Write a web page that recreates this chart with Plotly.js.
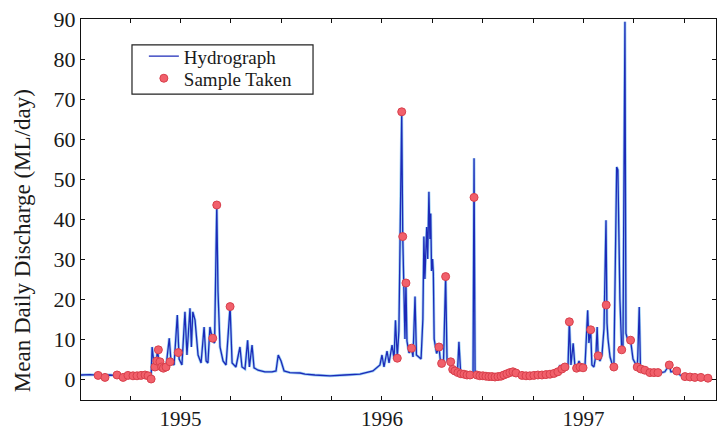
<!DOCTYPE html>
<html>
<head>
<meta charset="utf-8">
<script src="https://cdn.plot.ly/plotly-3.0.1.min.js"></script>
<style>
  html, body { margin: 0; padding: 0; background: #fff; }
  #chart { width: 718px; height: 430px; }
</style>
</head>
<body>
<div id="chart"></div>
<script>
// Mean daily discharge, mid-1994 to mid-1997 (time in decimal years)
const flowTime = [
  1994.506, 1994.551, 1994.600, 1994.650, 1994.700, 1994.749, 1994.799, 1994.839, 1994.854, 1994.859,
  1994.868, 1994.878, 1994.886, 1994.893, 1994.903, 1994.916, 1994.928, 1994.944, 1994.953, 1994.968,
  1994.984, 1994.993, 1995.007, 1995.022, 1995.032, 1995.047, 1995.054, 1995.061, 1995.072, 1995.087,
  1995.102, 1995.117, 1995.127, 1995.136, 1995.146, 1995.160, 1995.169, 1995.180, 1995.186, 1995.196,
  1995.211, 1995.226, 1995.246, 1995.256, 1995.275, 1995.295, 1995.305, 1995.320, 1995.333, 1995.342,
  1995.355, 1995.365, 1995.385, 1995.419, 1995.454, 1995.474, 1995.485, 1995.499, 1995.514, 1995.543,
  1995.593, 1995.618, 1995.667, 1995.742, 1995.816, 1995.891, 1995.955, 1995.980, 1995.990, 1996.000,
  1996.010, 1996.025, 1996.035, 1996.050, 1996.060, 1996.067, 1996.076, 1996.084, 1996.098, 1996.103,
  1996.109, 1996.114, 1996.119, 1996.124, 1996.134, 1996.147, 1996.154, 1996.164, 1996.171, 1996.180,
  1996.194, 1996.203, 1996.208, 1996.213, 1996.222, 1996.227, 1996.233, 1996.238, 1996.242, 1996.246,
  1996.251, 1996.255, 1996.259, 1996.271, 1996.283, 1996.290, 1996.296, 1996.305, 1996.316, 1996.323,
  1996.341, 1996.351, 1996.362, 1996.375, 1996.382, 1996.390, 1996.412, 1996.437, 1996.452, 1996.457,
  1996.462, 1996.476, 1996.511, 1996.561, 1996.610, 1996.635, 1996.650, 1996.675, 1996.710, 1996.759,
  1996.809, 1996.859, 1996.878, 1996.883, 1996.893, 1996.908, 1996.923, 1996.930, 1996.938, 1996.949,
  1996.958, 1996.968, 1996.978, 1996.988, 1996.998, 1997.007, 1997.021, 1997.027, 1997.036, 1997.042,
  1997.052, 1997.062, 1997.068, 1997.073, 1997.082, 1997.092, 1997.102, 1997.112, 1997.117, 1997.122,
  1997.132, 1997.141, 1997.151, 1997.156, 1997.165, 1997.171, 1997.176, 1997.181, 1997.190, 1997.196,
  1997.206, 1997.211, 1997.221, 1997.234, 1997.246, 1997.256, 1997.267, 1997.270, 1997.277, 1997.283,
  1997.305, 1997.330, 1997.355, 1997.380, 1997.404, 1997.426, 1997.434, 1997.463, 1997.479, 1997.504,
  1997.543, 1997.578, 1997.618, 1997.638
];
const flowValue = [
  1.0, 1.1, 0.9, 1.0, 0.8, 1.0, 0.9, 1.0, 0.5, 8.0,
  4.0, 3.5, 7.5, 4.0, 3.0, 2.7, 3.0, 10.2, 4.2, 3.5,
  16.0, 5.0, 3.5, 16.8, 6.0, 17.7, 8.0, 16.8, 14.7, 6.0,
  4.0, 13.0, 4.5, 4.0, 13.0, 9.5, 9.0, 43.5, 22.0, 8.0,
  4.5, 3.5, 18.1, 4.0, 3.0, 8.0, 3.0, 2.5, 9.7, 3.0,
  8.5, 2.8, 2.2, 1.8, 1.8, 2.0, 6.0, 4.5, 2.0, 1.6,
  1.5, 1.2, 1.0, 0.8, 1.0, 1.2, 2.0, 3.0, 3.5, 6.0,
  3.0, 7.0, 4.0, 8.5, 5.0, 14.7, 5.5, 12.0, 66.8, 36.0,
  20.0, 10.0, 24.0, 9.5, 6.5, 7.7, 5.5, 20.6, 6.0, 5.6,
  5.0, 15.0, 35.6, 25.0, 38.0, 30.0, 46.8, 35.0, 41.4, 27.0,
  30.0, 26.4, 10.0, 6.4, 8.0, 4.5, 3.9, 3.5, 25.6, 4.5,
  4.3, 2.4, 2.0, 2.0, 9.3, 2.0, 1.5, 1.2, 1.5, 55.2,
  2.0, 1.2, 0.8, 0.5, 0.6, 1.2, 1.8, 1.0, 0.8, 1.0,
  1.2, 1.5, 2.0, 3.5, 2.0, 3.0, 2.5, 14.3, 3.5, 8.9,
  3.0, 2.7, 4.5, 3.0, 3.5, 2.5, 17.2, 9.0, 12.3, 3.5,
  3.0, 6.0, 13.0, 5.8, 4.5, 6.0, 12.6, 39.7, 14.0, 10.0,
  5.5, 4.0, 3.0, 20.0, 53.0, 52.3, 35.0, 20.0, 7.3, 7.0,
  89.3, 11.4, 9.5, 9.7, 5.0, 4.0, 3.0, 6.0, 18.0, 3.0,
  2.2, 1.8, 1.6, 1.5, 1.8, 3.5, 1.8, 2.0, 1.0, 0.6,
  0.4, 0.3, 0.2, 0.2
];

// Days on which a water sample was collected
const sampleTime = [
  1994.591, 1994.625, 1994.685, 1994.715, 1994.739, 1994.764, 1994.784, 1994.804, 1994.824, 1994.839,
  1994.854, 1994.873, 1994.882, 1994.890, 1994.898, 1994.906, 1994.915, 1994.928, 1994.948, 1994.989,
  1995.160, 1995.180, 1995.246,
  1996.076, 1996.098, 1996.103, 1996.119, 1996.147, 1996.283, 1996.296, 1996.316, 1996.341, 1996.351,
  1996.362, 1996.377, 1996.392, 1996.407, 1996.422, 1996.437, 1996.457, 1996.471, 1996.486, 1996.501,
  1996.516, 1996.531, 1996.546, 1996.561, 1996.576, 1996.591, 1996.605, 1996.620, 1996.635, 1996.650,
  1996.665, 1996.695, 1996.715, 1996.734, 1996.754, 1996.774, 1996.794, 1996.814, 1996.834, 1996.854,
  1996.873, 1996.893, 1996.908, 1996.930, 1996.966, 1996.983, 1996.998,
  1997.036, 1997.073, 1997.113, 1997.151, 1997.190, 1997.234, 1997.267, 1997.285, 1997.305, 1997.330,
  1997.350, 1997.370, 1997.426, 1997.463, 1997.504, 1997.529, 1997.553, 1997.583, 1997.618
];
const sampleValue = [
  0.9, 0.4, 1.0, 0.4, 0.9, 0.8, 0.8, 0.9, 1.0, 0.8,
  0.0, 3.0, 4.5, 7.3, 4.3, 3.0, 2.7, 3.0, 4.3, 6.6,
  10.2, 43.5, 18.1,
  5.2, 66.8, 35.6, 24.0, 7.7, 8.0, 3.9, 25.6, 4.3, 2.4,
  2.0, 1.6, 1.3, 1.2, 1.0, 1.0, 45.4, 1.0, 0.8, 0.8,
  0.7, 0.6, 0.6, 0.5, 0.6, 0.7, 1.0, 1.3, 1.6, 1.8,
  1.5, 0.9, 0.8, 0.8, 0.9, 1.0, 1.0, 1.1, 1.2, 1.4,
  1.8, 2.5, 3.0, 14.3, 2.7, 3.0, 2.8,
  12.3, 5.8, 18.5, 3.0, 7.3, 9.7, 3.0, 2.5, 2.2, 1.6,
  1.6, 1.6, 3.5, 2.0, 0.6, 0.5, 0.4, 0.4, 0.2
];

// Axis ticks: quarterly marks, labelled at each new year
const xTickVals = [1994.75, 1995, 1995.25, 1995.5, 1995.75, 1996, 1996.25, 1996.5, 1996.75, 1997, 1997.25, 1997.5];
const xTickText = ['', '1995', '', '', '', '1996', '', '', '', '1997', '', ''];
const yTickVals = [0, 10, 20, 30, 40, 50, 60, 70, 80, 90];

const serif = 'Liberation Serif, Times New Roman, serif';
const legendFont = { family: serif, size: 19, color: '#1a1a1a' };

const traces = [
  { // soft cyan under-stroke of the hydrograph
    x: flowTime, y: flowValue, type: 'scatter', mode: 'lines',
    line: { color: 'rgba(80,170,235,0.55)', width: 2.8 },
    hoverinfo: 'skip', showlegend: false
  },
  {
    x: flowTime, y: flowValue, type: 'scatter', mode: 'lines',
    name: 'Hydrograph', legend: 'legend',
    line: { color: '#1c2ab8', width: 1.3 }
  },
  {
    x: sampleTime, y: sampleValue, type: 'scatter', mode: 'markers',
    name: 'Sample Taken', legend: 'legend2',
    marker: { color: '#f1606b', size: 8, line: { color: '#d8404c', width: 1 } }
  }
];

const axisStyle = {
  showline: true, mirror: 'ticks', linecolor: '#111', linewidth: 1.2,
  ticks: 'inside', ticklen: 4, tickcolor: '#111', tickwidth: 1,
  showgrid: false, zeroline: false
};

const layout = {
  width: 718, height: 430,
  margin: { l: 81, r: 2, t: 19, b: 30 },
  paper_bgcolor: '#fff', plot_bgcolor: '#fff',
  showlegend: true,
  xaxis: Object.assign({}, axisStyle, {
    range: [1994.506, 1997.658],
    tickmode: 'array', tickvals: xTickVals, ticktext: xTickText,
    tickfont: { family: serif, size: 21, color: '#1a1a1a' }
  }),
  yaxis: Object.assign({}, axisStyle, {
    range: [-5.25, 90],
    tickmode: 'array', tickvals: yTickVals,
    tickfont: { family: serif, size: 22, color: '#1a1a1a' }
  }),
  legend: {
    x: 0.099, y: 0.952, xanchor: 'left', yanchor: 'top',
    bgcolor: 'rgba(0,0,0,0)', borderwidth: 0, font: legendFont
  },
  legend2: {
    x: 0.099, y: 0.894, xanchor: 'left', yanchor: 'top',
    bgcolor: 'rgba(0,0,0,0)', borderwidth: 0, font: legendFont
  },
  shapes: [{
    type: 'rect', xref: 'paper', yref: 'paper',
    x0: 0.0803, x1: 0.3654, y0: 0.803, y1: 0.932,
    line: { color: '#222', width: 1.2 }, fillcolor: 'rgba(0,0,0,0)'
  }],
  annotations: [{
    text: 'Mean Daily Discharge (ML/day)',
    xref: 'paper', yref: 'paper', x: -0.0929, y: 0.417,
    xanchor: 'center', yanchor: 'middle', textangle: -90, showarrow: false,
    font: { family: serif, size: 23, color: '#1a1a1a' }
  }]
};

Plotly.newPlot('chart', traces, layout, { staticPlot: true, displayModeBar: false });
</script>
</body>
</html>
